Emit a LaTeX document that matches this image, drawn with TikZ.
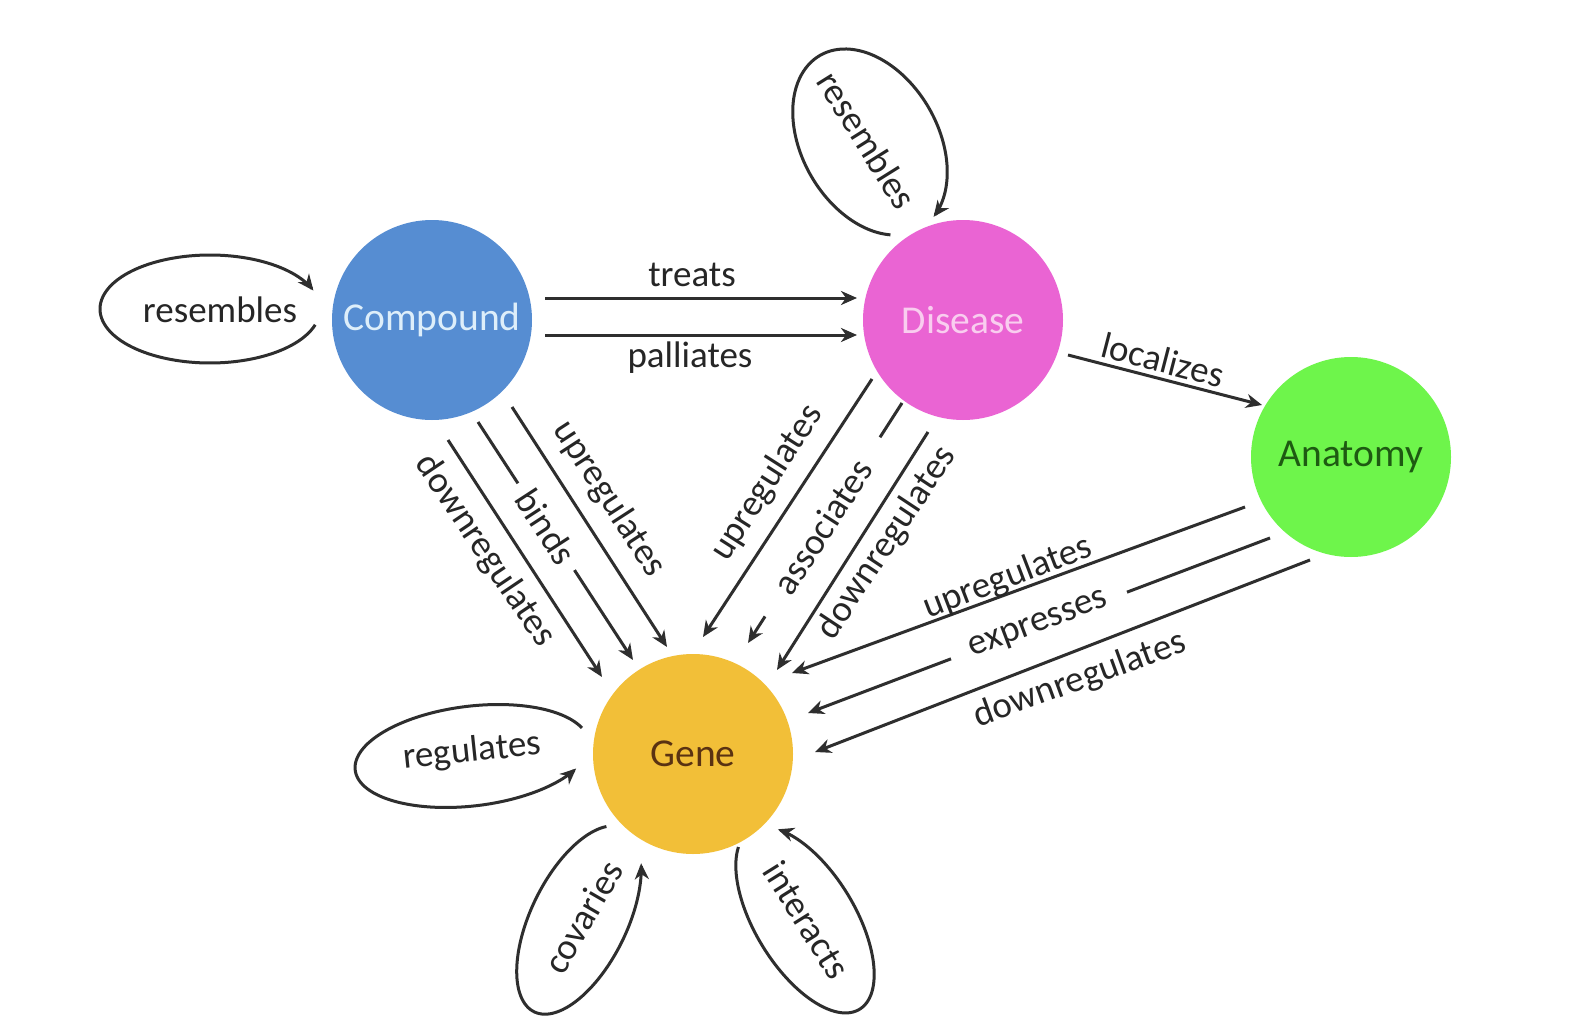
\documentclass[tikz,border=0pt]{standalone}
\usepackage{fontspec}
\setmainfont{Carlito}
\usetikzlibrary{arrows.meta,calc}
\definecolor{cblue}{HTML}{568DD2}
\definecolor{cbluetext}{HTML}{DDEEFA}
\definecolor{cpink}{HTML}{EA64D3}
\definecolor{cpinktext}{HTML}{F9CDEF}
\definecolor{cgreen}{HTML}{6EF54B}
\definecolor{cgreentext}{HTML}{1E5A12}
\definecolor{cgold}{HTML}{F2BF38}
\definecolor{cgoldtext}{HTML}{5A3212}
\definecolor{linec}{HTML}{2E2E2E}
\definecolor{labc}{HTML}{262626}
\newcommand\eloopdraw[8]{%
  \draw[rel, shift={(#1)}] plot[domain=#8, samples=100, smooth, variable=\t]
    ({#2+#6*cos(\t)*(#4)-(#7)*sin(\t)*(#5)},{#3+#6*cos(\t)*(#5)+(#7)*sin(\t)*(#4)});}
\begin{document}
\begin{tikzpicture}[x=1pt,y=-1pt,
  ent/.style={circle, minimum size=200pt, inner sep=0pt, font=\fontsize{39.5}{42}\selectfont},
  rel/.style={line width=3pt, draw=linec, -{Stealth[length=16pt,width=14pt,inset=5pt]}},
  lab/.style={font=\fontsize{37}{40}\selectfont, text=labc, inner sep=0pt},
  gaplab/.style={lab, fill=white, inner ysep=4pt}]
\useasboundingbox (0,0) rectangle (1596,1022);
\fill[white] (0,0) rectangle (1596,1022);

% entities
\node[ent, fill=cblue, text=cbluetext] (compound) at (432,320) {Compound};
\node[ent, fill=cpink, text=cpinktext] (disease) at (963,320) {Disease};
\node[ent, fill=cgreen, text=cgreentext] (anatomy) at (1351,457) {Anatomy};
\node[ent, fill=cgold, text=cgoldtext] (gene) at (693,754) {Gene};

% compound -> disease
\draw[rel] ($(compound)+(113,-22)$) -- ($(disease)+(-106,-22)$);
\draw[rel] ($(compound)+(113,15)$) -- ($(disease)+(-106,15)$);
\node[lab] (l-treats) at (692,275) {treats};
\node[lab] (l-palliates) at (690,358) {palliates};

% disease -> anatomy
\draw[rel] ($(disease)+(105,35)$) -- ($(anatomy)+(-89,-52)$);
\node[lab, rotate=-14.5] (l-localizes) at (1163,360) {localizes};

% compound -> gene
\draw[rel] ($(compound)+(80,87)$) -- ($(gene)+(-26,-107)$);
\draw[rel] ($(compound)+(46,102)$) -- ($(gene)+(-60,-94)$)
  node[gaplab, pos=.44, sloped, inner xsep=11pt] (l-binds) {binds};
\draw[rel] ($(compound)+(16,120)$) -- ($(gene)+(-91,-77)$);
\node[lab, rotate=-57] (l-cup) at (609,499) {upregulates};
\node[lab, rotate=-56] (l-cdown) at (485,551) {downregulates};

% disease -> gene
\draw[rel] ($(disease)+(-91,59)$) -- ($(gene)+(10,-117)$);
\draw[rel] ($(disease)+(-61,83)$) -- ($(gene)+(55,-111)$)
  node[gaplab, pos=.516, sloped, inner xsep=30pt] (l-assoc) {associates};
\draw[rel] ($(disease)+(-35,112)$) -- ($(gene)+(84,-84)$);
\node[lab, rotate=57.5] (l-dup) at (767,483) {upregulates};
\node[lab, rotate=56.5] (l-ddown) at (887,543) {downregulates};

% anatomy -> gene
\draw[rel] ($(anatomy)+(-106,50)$) -- ($(gene)+(99,-81)$);
\draw[rel] ($(anatomy)+(-81,81)$) -- ($(gene)+(115,-41)$)
  node[gaplab, pos=.5, sloped, inner xsep=21pt] (l-expr) {expresses};
\draw[rel] ($(anatomy)+(-41,103)$) -- ($(gene)+(122,-2)$);
\node[lab, rotate=21] (l-aup) at (1008,578) {upregulates};
\node[lab, rotate=20] (l-adown) at (1080,680) {downregulates};

% self loops
\eloopdraw{compound}{-222}{-11}{1}{0}{110}{54}{17:340}
\node[lab] (l-cres) at (220,310) {resembles};
\eloopdraw{disease}{-93}{-178}{0.5}{0.866}{100}{68}{25:345}
\node[lab, rotate=-58] (l-dres) at (867,140) {resembles};
\eloopdraw{gene}{-221}{2}{0.99}{-0.12}{118}{-50}{17:330}
\node[lab, rotate=6] (l-reg) at (472,752) {regulates};
\eloopdraw{gene}{-114}{166}{0.44}{-0.9}{102}{-48}{20:320}
\node[lab, rotate=60] (l-cov) at (583,917) {covaries};
\eloopdraw{gene}{112}{166}{-0.52}{-0.85}{105}{-50}{22:331}
\node[lab, rotate=-58] (l-int) at (807,920) {interacts};
\end{tikzpicture}
\end{document}
